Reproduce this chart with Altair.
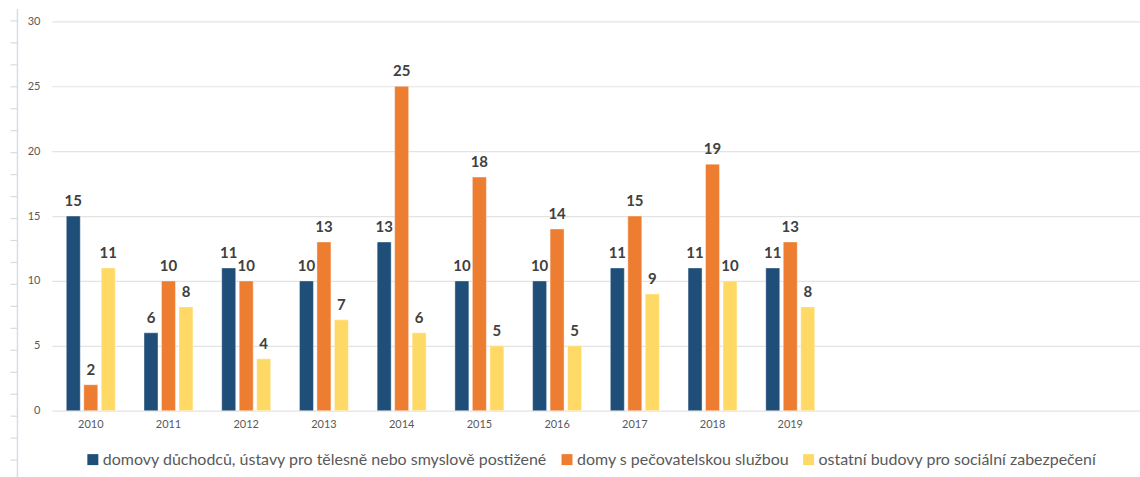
import altair as alt
import pandas as pd

years = ["2010", "2011", "2012", "2013", "2014", "2015", "2016", "2017", "2018", "2019"]
axis_years = years + ["2020", "2021", "2022", "2023"]
series = [
    "domovy důchodců, ústavy pro tělesně nebo smyslově postižené",
    "domy s pečovatelskou službou",
    "ostatní budovy pro sociální zabezpečení",
]
domovy = [15, 6, 11, 10, 13, 10, 10, 11, 11, 11]
pecovatelske = [2, 10, 10, 13, 25, 18, 14, 15, 19, 13]
ostatni = [11, 8, 4, 7, 6, 5, 5, 9, 10, 8]
colors = ["#1F4E79", "#ED7D31", "#FFD966"]

rows = []
for s, vals in zip(series, [domovy, pecovatelske, ostatni]):
    for y, v in zip(years, vals):
        rows.append({"year": y, "series": s, "value": v})
df = pd.DataFrame(rows)

FONT = "Lato"
GREY = "#595959"

x_enc = alt.X(
    "year:N",
    scale=alt.Scale(domain=axis_years, paddingInner=0.37, paddingOuter=0.185),
    axis=alt.Axis(
        title=None, labelAngle=0, ticks=False, domain=False,
        labelColor=GREY, labelFont=FONT, labelFontSize=11, labelPadding=8,
        labelExpr="toNumber(datum.value) > 2019 ? '' : datum.label",
    ),
)
xoff = alt.XOffset("series:N", scale=alt.Scale(domain=series, paddingInner=0.2))
y_enc = alt.Y(
    "value:Q",
    scale=alt.Scale(domain=[0, 30]),
    axis=alt.Axis(
        title=None, values=[0, 5, 10, 15, 20, 25, 30], domain=False, ticks=False,
        gridColor="#e3e3e3", gridWidth=1.2, labelColor=GREY, labelFont=FONT,
        labelFontSize=11, labelPadding=12,
    ),
)

base = alt.Chart(df)
bars = base.mark_bar(stroke="white", strokeOpacity=0.5, strokeWidth=0.8).encode(
    x=x_enc, xOffset=xoff, y=y_enc,
    color=alt.Color(
        "series:N",
        scale=alt.Scale(domain=series, range=colors),
        legend=alt.Legend(
            title=None, orient="none", legendX=33, legendY=431, direction="horizontal",
            columns=3, symbolType="square", symbolSize=121, symbolStrokeWidth=0,
            labelFont=FONT, labelFontSize=16, labelColor=GREY, labelOffset=2,
            labelLimit=0, columnPadding=11,
        ),
    ),
)
labels = base.mark_text(
    baseline="alphabetic", dy=-10, font=FONT, fontSize=15, fontWeight="bold", color="#404040"
).encode(x=x_enc, xOffset=xoff, y=alt.Y("value:Q", scale=alt.Scale(domain=[0, 30]), axis=None), text="value:Q")

deco = alt.Chart(pd.DataFrame({"v": [0]})).mark_rule(opacity=0).encode(
    y=alt.Y(
        "v:Q",
        scale=alt.Scale(domain=[0, 469], range=[456, -13]),
        axis=alt.Axis(
            orient="left", offset=35, title=None, labels=False, grid=False,
            values=list(range(17, 460, 22)), domain=True, domainColor="#d6dce4",
            domainWidth=1.5, ticks=True, tickSize=7, tickColor="#d6dce4", tickWidth=1.2,
        ),
    )
)

chart = (
    alt.layer(bars, labels, deco)
    .resolve_scale(y="independent")
    .properties(
        width=1090, height=390,
        autosize=alt.AutoSizeParams(type="none"),
        padding={"left": 52, "top": 21, "right": 0, "bottom": 66},
        background="white",
    )
    .configure_view(stroke=None)
)

chart.save("out.html", embed_options={"renderer": "svg", "actions": False})
